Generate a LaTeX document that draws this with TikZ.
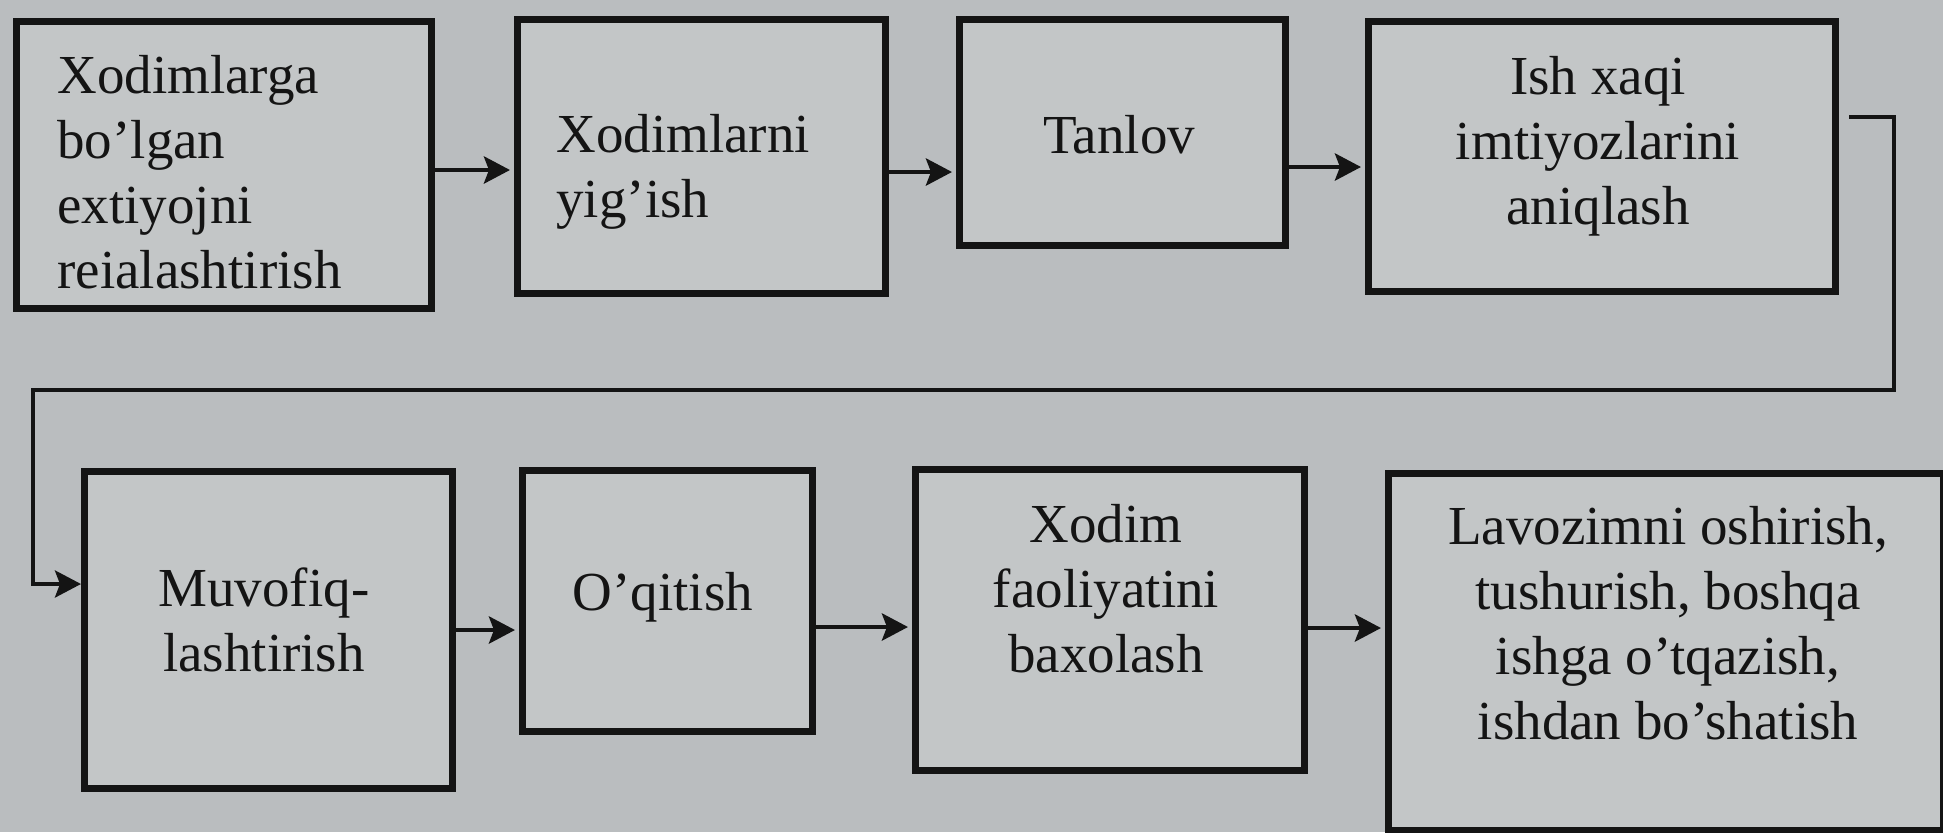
\documentclass[tikz,border=0pt]{standalone}
\usepackage{fontspec}
\setmainfont{Liberation Serif}
\usetikzlibrary{arrows.meta}

\definecolor{pagegray}{RGB}{186,189,191}
\definecolor{boxgray}{RGB}{195,198,199}
\definecolor{ink}{RGB}{20,20,20}

\tikzset{
  stagebox/.style={draw=ink, fill=boxgray, line width=3.6pt, inner sep=0pt,
                   anchor=north west},
  stagetext/.style={inner sep=0pt, text=ink,
                    font=\fontsize{27.5pt}{32.5pt}\selectfont},
  flowtip/.style={-{Stealth[length=13pt,width=13.5pt,inset=2.5pt]}},
  flow/.style={draw=ink, line width=2.4pt, flowtip, shorten >=2pt},
  backflow/.style={draw=ink, line width=2pt, flowtip}
}

\begin{document}
\begin{tikzpicture}[x=0.5pt,y=-0.5pt]
  % page
  \fill[pagegray] (0,0) rectangle (1943,832);
  \useasboundingbox (0,0) rectangle (1943,832);

  % upper row of stages
  \node[stagebox, minimum width=207.5pt, minimum height=143.5pt] (b1) at (13,18) {};
  \node[stagebox, minimum width=184pt,   minimum height=137pt]   (b2) at (514,16) {};
  \node[stagebox, minimum width=163pt,   minimum height=113pt]   (b3) at (956,16) {};
  \node[stagebox, minimum width=233.5pt, minimum height=135pt]   (b4) at (1365,18) {};

  % lower row of stages
  \node[stagebox, minimum width=184pt,   minimum height=158.5pt] (b5) at (81,468) {};
  \node[stagebox, minimum width=145pt,   minimum height=130.5pt] (b6) at (519,467) {};
  \node[stagebox, minimum width=194.5pt, minimum height=150.5pt] (b7) at (912,466) {};
  \node[stagebox, minimum width=277.5pt, minimum height=178.5pt] (b8) at (1385,470) {};

  % captions
  \node[stagetext, align=left, anchor=north west] (t1) at (57,55.4)
    {Xodimlarga\\bo’lgan\\extiyojni\\reialashtirish};
  \node[stagetext, align=left, anchor=north west] (t2) at (556,114.4)
    {Xodimlarni\\yig’ish};
  \node[stagetext, align=center, anchor=north] (t3) at (1119,115.4)
    {Tanlov};
  \node[stagetext, align=center, anchor=north] (t4) at (1598,56.4)
    {Ish xaqi\\imtiyozlarini\\aniqlash};
  \node[stagetext, align=center, anchor=north] (t5) at (264,567.4)
    {Muvofiq-\\lashtirish};
  \node[stagetext, align=center, anchor=north] (t6) at (663,572.4)
    {O’qitish};
  \node[stagetext, align=center, anchor=north] (t7) at (1106,504.4)
    {Xodim\\faoliyatini\\baxolash};
  \node[stagetext, align=center, anchor=north] (t8) at (1668,506.4)
    {Lavozimni oshirish,\\tushurish, boshqa\\ishga o’tqazish,\\ishdan bo’shatish};

  % arrows between neighbouring stages
  \draw[flow] (b1.east |- 0,170) -- (b2.west |- 0,170);
  \draw[flow] (b2.east |- 0,172) -- (b3.west |- 0,172);
  \draw[flow] (b3.east |- 0,167) -- (b4.west |- 0,167);
  \draw[flow] (b5.east |- 0,630) -- (b6.west |- 0,630);
  \draw[flow] (b6.east |- 0,627) -- (b7.west |- 0,627);
  \draw[flow] (b7.east |- 0,628) -- (b8.west |- 0,628);

  % return line from the upper row down to the lower row
  \coordinate (fstart) at ([xshift=5pt]b4.east);
  \coordinate (fright) at (1894,390);
  \coordinate (fleft)  at (33,390);
  \draw[backflow] (fstart |- 0,117) -| (fright) -- (fleft) |- (b5.west |- 0,584);
\end{tikzpicture}
\end{document}
